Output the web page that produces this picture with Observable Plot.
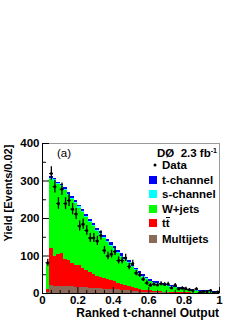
<!DOCTYPE html>
<html><head><meta charset="utf-8">
<script src="https://cdn.jsdelivr.net/npm/d3@7"></script>
<script src="https://cdn.jsdelivr.net/npm/@observablehq/plot@0.6"></script>
<style>
html,body{margin:0;padding:0;background:#fff;}
</style>
</head><body><div id="chart"></div>
<script>
// Bin width 0.02, 50 bins over [0,1]
const binWidth = 0.02;
const nBins = 50;
// Stacked components (individual heights per bin), bottom to top
const multijets = [0,4,22,20,20,19,18,20,18,17,17,16,15,14,14,13,13,12,12,11,10,10,9,8,7,6,5,4,4,3,3,2,2,2,2,2,1,1,1,1,1,1,1,0,0,0,0,0,0,0];
const ttbar     = [0,8,98,79,84,89,72,67,62,58,58,50,47,41,36,33,30,28,26,24,22,18,16,14,11,10,8,7,5,5,4,4,3,3,2,2,2,2,2,1,1,1,0,1,1,1,1,1,1,1];
const wjets     = [0,66,185,201,186,177,185,175,170,165,153,149,140,135,128,120,113,106,98,91,84,78,72,66,61,54,48,41,35,29,24,21,20,18,17,15,14,12,10,9,8,6,6,5,4,4,3,3,2,2];
const schannel  = [0,1,3,3,3,3,3,3,3,3,3,3,3,3,3,3,3,3,3,3,3,3,3,3,3,3,2,2,2,2,2,2,2,2,2,2,2,2,1,1,1,1,1,1,1,1,1,1,1,1];
const tchannel  = [0,2,4,4,4,4,4,4,5,5,5,5,5,5,5,5,6,6,6,6,6,6,6,6,6,5,5,5,5,4,4,4,4,3,3,3,3,3,3,3,3,3,2,2,2,2,2,2,2,2];
// Observed data per bin (bin 0 empty)
const dataCounts = [null,82,320,285,240,278,240,248,225,212,180,185,168,148,148,140,155,115,100,105,112,88,88,95,72,80,55,50,38,28,22,25,23,26,24,25,15,22,12,14,13,10,8,12,3,5,5,8,3,4];

const componentNames = ["Multijets","tt","W+jets","s-channel","t-channel"];
const componentColors = ["#8c6a5a","#ff0000","#00ff00","#00ffff","#0000ff"];
const componentValues = [multijets, ttbar, wjets, schannel, tchannel];

const xTicks = [0,0.2,0.4,0.6,0.8,1];
const xMinor = [0.05,0.1,0.15,0.25,0.3,0.35,0.45,0.5,0.55,0.65,0.7,0.75,0.85,0.9,0.95];
const yTicks = [0,100,200,300,400];
const yMinor = [50,150,250,350];

// Build stacked rectangles
const rects = [];
for (let i = 0; i < nBins; i++) {
  let base = 0;
  componentValues.forEach((arr, c) => {
    const v = arr[i];
    if (v > 0) rects.push({x1: i*binWidth, x2: (i+1)*binWidth, y1: base, y2: base + v, comp: componentNames[c]});
    base += v;
  });
}
const points = [];
dataCounts.forEach((n, i) => {
  if (n == null) return;
  points.push({lo: i*binWidth, hi: (i+1)*binWidth, x: (i+0.5)*binWidth, n, err: Math.sqrt(n)});
});

const font = "'Liberation Sans', Arial, Helvetica, sans-serif";
const W = 249, H = 323, ML = 42, MR = 30, MT = 143, MB = 30;
const fw = W - ML - MR, fh = H - MT - MB;

const chart = Plot.plot({
  width: W, height: H,
  marginLeft: ML, marginRight: MR, marginTop: MT, marginBottom: MB,
  x: {domain: [0, 1]},
  y: {domain: [0, 400]},
  color: {domain: componentNames, range: componentColors},
  style: {fontFamily: font, fontSize: "11px", fontWeight: "bold", color: "black", background: "white", overflow: "visible"},
  marks: [
    Plot.rect(rects, {x1: "x1", x2: "x2", y1: "y1", y2: "y2", fill: "comp", inset: 0, shapeRendering: "crispEdges"}),
    Plot.ruleX(points, {x: "x", y1: d => d.n - d.err, y2: d => d.n + d.err, stroke: "black", strokeWidth: 1.3}),
    Plot.ruleY(points, {y: "n", x1: "lo", x2: "hi", stroke: "black", strokeWidth: 1}),
    Plot.dot(points, {x: "x", y: "n", r: 1.5, fill: "black", stroke: "none"}),
    Plot.frame({stroke: "#999"}),
    Plot.ruleX([0], {stroke: "black"}),
    Plot.ruleY([0], {stroke: "black"}),
    Plot.tickY(yTicks, {y: d => d, insetRight: fw - 7, stroke: "black"}),
    Plot.tickY(yMinor, {y: d => d, insetRight: fw - 4, stroke: "black"}),
    Plot.tickX(xTicks, {x: d => d, insetTop: fh - 6, stroke: "black"}),
    Plot.tickX(xMinor, {x: d => d, insetTop: fh - 3, stroke: "black"}),
    Plot.axisX({ticks: xTicks, tickSize: 0, tickPadding: 2, label: null,
      tickFormat: d => (d === 0 || d === 1) ? String(d) : d.toFixed(1), fontSize: 11.5}),
    Plot.axisY({ticks: yTicks, tickSize: 0, tickPadding: 3, label: null, fontSize: 11.5})
  ]
});
document.getElementById("chart").appendChild(chart);

// Annotations & legend
const svg = d3.select(chart);
const g = svg.append("g").attr("font-family", font).attr("font-size", 11).attr("fill", "black")
  .attr("text-anchor", "start");
g.append("text").attr("transform", "translate(12,193) rotate(-90)").attr("text-anchor", "middle")
  .attr("font-weight", "bold").text("Yield [Events/0.02]");
g.append("text").attr("x", 219).attr("y", 317).attr("text-anchor", "end").attr("font-size", 12)
  .attr("font-weight", "bold").text("Ranked t-channel Output");
g.append("text").attr("x", 57).attr("y", 157).attr("font-weight", "normal").attr("font-size", 11.5).text("(a)");

const hdr = g.append("text").attr("x", 157).attr("y", 157).attr("font-weight", "bold").attr("font-size", 11.5);
hdr.append("tspan").text("DØ  2.3 fb");
hdr.append("tspan").attr("dy", -4).attr("font-size", 7).text("-1");

g.append("circle").attr("cx", 155).attr("cy", 165).attr("r", 1.5).attr("fill", "black");
g.append("text").attr("x", 162).attr("y", 169).attr("font-weight", "bold").attr("font-size", 11.5).text("Data");

const legendItems = [
  {label: "t-channel", c: 4, cy: 180},
  {label: "s-channel", c: 3, cy: 194},
  {label: "W+jets", c: 2, cy: 209},
  {label: "tt", c: 1, cy: 223},
  {label: "Multijets", c: 0, cy: 239}
];
legendItems.forEach(it => {
  g.append("rect").attr("x", 149).attr("y", it.cy - 4).attr("width", 8).attr("height", 8)
    .attr("fill", componentColors[it.c]);
  g.append("text").attr("x", 162).attr("y", it.cy + 4).attr("font-weight", "bold").attr("font-size", 11.5).text(it.label);
  if (it.label === "tt") {
    g.append("line").attr("x1", 166).attr("x2", 170).attr("y1", it.cy - 5.5).attr("y2", it.cy - 5.5)
      .attr("stroke", "black").attr("stroke-width", 1);
  }
});
</script>
</body></html>
